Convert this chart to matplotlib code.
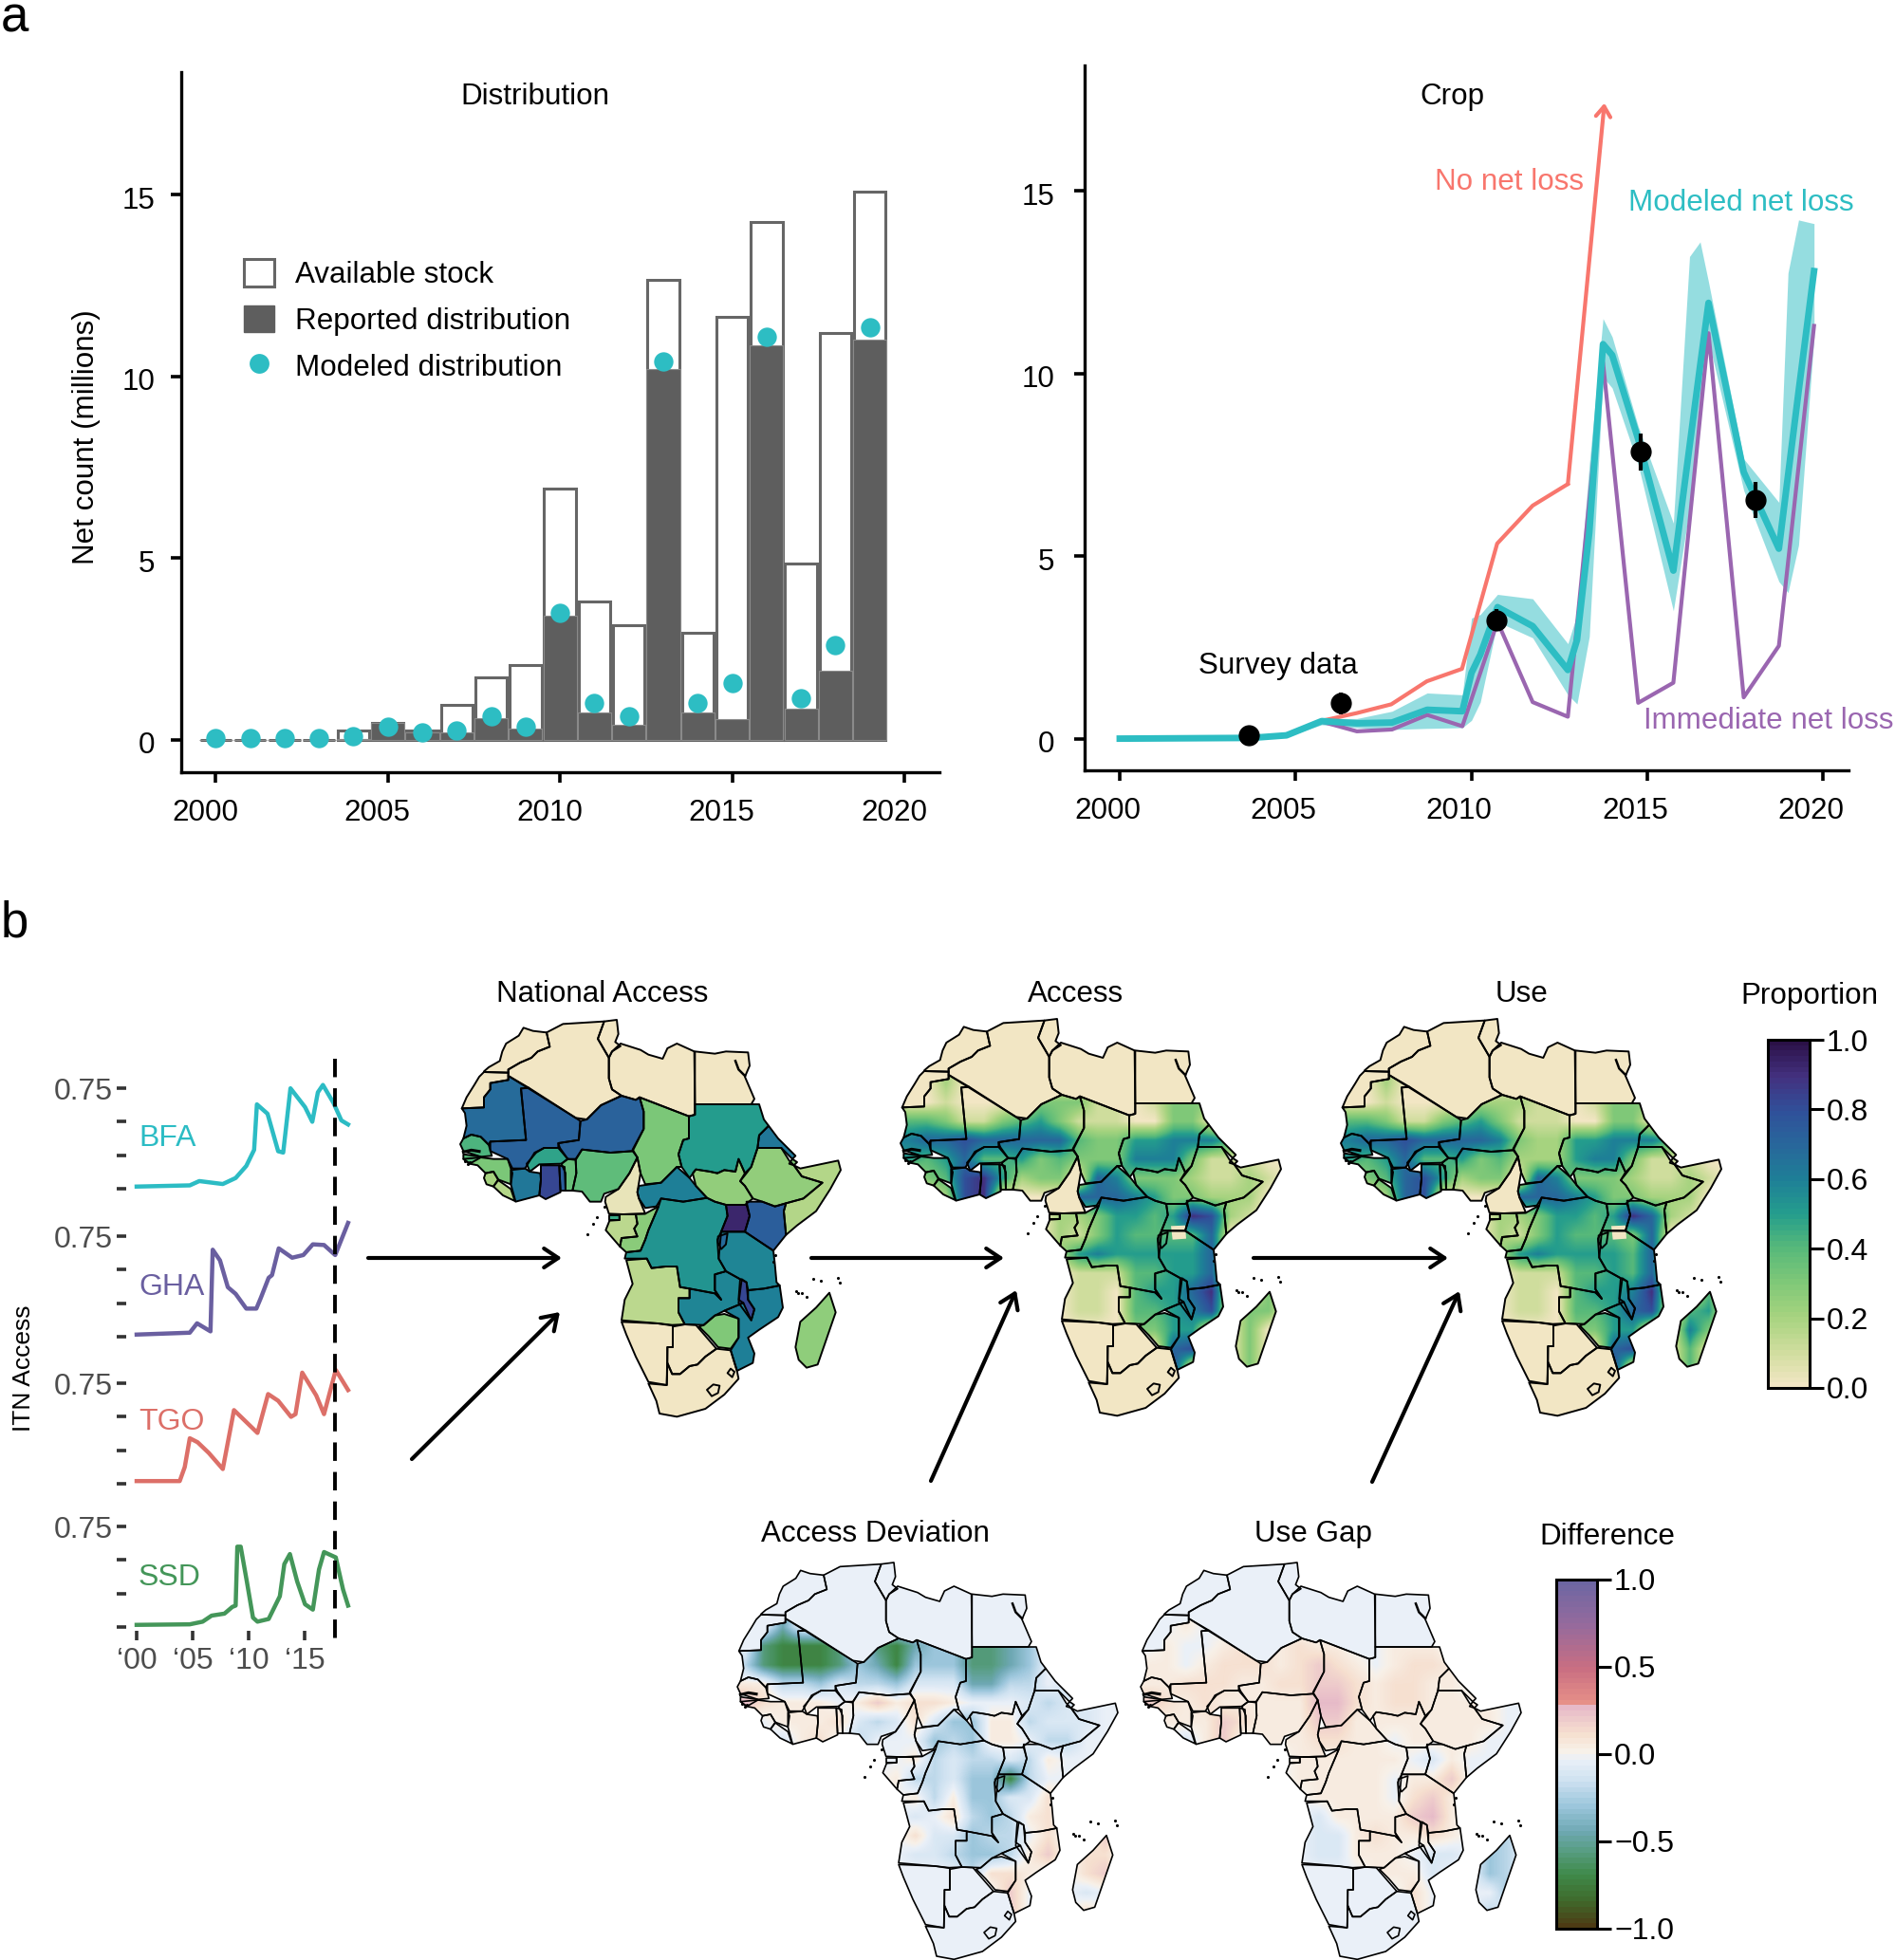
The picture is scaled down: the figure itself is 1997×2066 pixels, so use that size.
import numpy as np
import matplotlib
matplotlib.use('Agg')
import matplotlib.pyplot as plt
from matplotlib.patches import Polygon, Patch
from matplotlib.lines import Line2D
from matplotlib.path import Path
from matplotlib.colors import LinearSegmentedColormap, Normalize
from matplotlib.cm import ScalarMappable
from matplotlib.transforms import ScaledTranslation

plt.rcParams['font.family'] = ['Liberation Sans', 'DejaVu Sans']
plt.rcParams['font.size'] = 22.6

W, H = 1997, 2066
TEAL = '#2dbdc3'
RED = '#f8766d'
PURPLE = '#9a66b0'
GREY = '#5e5e5e'

# panel a, distribution
years = list(range(2000, 2020))
stock = [0, 0, 0, 0, 0.25, 0.45, 0.25, 0.95, 1.7, 2.05, 6.9, 3.8, 3.15, 12.65, 2.95, 11.65, 14.25, 4.85, 11.2, 15.1]
reported = [0, 0, 0, 0, 0.02, 0.45, 0.2, 0.2, 0.6, 0.3, 3.4, 0.75, 0.4, 10.2, 0.75, 0.55, 10.85, 0.85, 1.9, 11.0]
modeled_dist = [0.03, 0.03, 0.03, 0.03, 0.1, 0.35, 0.2, 0.25, 0.65, 0.35, 3.5, 1.0, 0.65, 10.4, 1.0, 1.55, 11.1, 1.15, 2.6, 11.35]

# panel a, crop
no_loss_x = [2000, 2003.74, 2004.74, 2005.8, 2006.74, 2007.72, 2008.73, 2009.73, 2010.73, 2011.74, 2012.74]
no_loss_y = [0, 0.02, 0.09, 0.5, 0.7, 0.94, 1.57, 1.91, 5.34, 6.38, 6.97]
arrow_tip = (2013.78, 17.4)

crop_x = [2000, 2003.74, 2004.74, 2005.74, 2006.74, 2007.74, 2008.74, 2009.74, 2010, 2010.25, 2010.74, 2011.74,
          2012.74, 2013, 2013.35, 2013.74, 2014, 2014.74, 2015.74, 2016.2, 2016.5, 2016.74, 2017.74, 2018.74,
          2019, 2019.3, 2019.74]
crop_mid = [0, 0.02, 0.09, 0.48, 0.42, 0.44, 0.79, 0.75, 1.8, 2.3, 3.6, 3.08,
            1.88, 2.7, 5.65, 10.8, 10.5, 8.2, 4.6, 8.0, 10.2, 11.93, 7.3, 5.2,
            7.2, 9.5, 12.8]
crop_hi = [0, 0.02, 0.19, 0.55, 0.55, 0.75, 1.25, 1.2, 3.3, 3.4, 3.95, 3.83,
           2.6, 3.4, 7.5, 11.5, 11.0, 8.55, 5.9, 13.2, 13.6, 12.5, 7.66, 6.47,
           12.75, 14.2, 14.1]
crop_lo = [0, 0.02, 0.05, 0.38, 0.3, 0.25, 0.28, 0.3, 0.5, 1.0, 3.2, 2.76,
           1.2, 0.95, 2.8, 9.9, 9.6, 7.5, 3.5, 6.3, 9.4, 10.9, 6.8, 4.3,
           4.0, 5.3, 11.0]

immediate_x = [2005.8, 2006.74, 2007.74, 2008.74, 2009.74, 2010.74, 2011.74, 2012.74, 2013.74, 2014.74, 2015.74,
               2016.74, 2017.74, 2018.74, 2019.74]
immediate_y = [0.45, 0.2, 0.25, 0.65, 0.34, 3.2, 1.0, 0.6, 10.3, 0.98, 1.53, 11.1, 1.13, 2.54, 11.3]

survey_x = [2003.68, 2006.28, 2010.7, 2014.8, 2018.07]
survey_y = [0.1, 0.97, 3.24, 7.85, 6.53]
survey_err = [0.05, 0.3, 0.3, 0.5, 0.5]

# panel b, country time series
bfa_x = [2000, 2004.75, 2005.6, 2007.7, 2008.85, 2009.8, 2010.5, 2010.75, 2011.7, 2012.65, 2013.1, 2013.75, 2015.05,
         2015.7, 2016.2, 2016.65, 2017.6, 2018.3, 2018.9]
bfa_y = [0.016, 0.025, 0.057, 0.035, 0.08, 0.17, 0.29, 0.63, 0.56, 0.28, 0.27, 0.75, 0.61, 0.5, 0.72, 0.775, 0.64, 0.51, 0.48]
gha_x = [2000, 2004.75, 2005.4, 2006.6, 2006.8, 2007.45, 2008.15, 2008.85, 2009.8, 2010.7, 2011.1, 2011.8, 2012.1, 2012.7,
         2013.9, 2014.9, 2015.75, 2016.75, 2017.75, 2018.9]
gha_y = [0.016, 0.03, 0.1, 0.04, 0.65, 0.57, 0.37, 0.32, 0.21, 0.21, 0.29, 0.44, 0.46, 0.66, 0.59, 0.61, 0.69, 0.685, 0.61, 0.85]
tgo_x = [2000, 2003.85, 2004.3, 2004.75, 2005.45, 2006.45, 2007.7, 2008.7, 2010.8, 2011.75, 2012.65, 2013.8, 2014.2, 2014.8,
         2016.05, 2016.75, 2017.8, 2018.9]
tgo_y = [0.02, 0.02, 0.125, 0.34, 0.31, 0.23, 0.11, 0.55, 0.38, 0.67, 0.62, 0.5, 0.52, 0.83, 0.66, 0.52, 0.85, 0.7]
ssd_x = [2000, 2004.75, 2005.9, 2006.7, 2007.85, 2008.55, 2008.85, 2009, 2009.3, 2009.85, 2010.4, 2010.8, 2011.8, 2012.8,
         2013.2, 2013.7, 2014.35, 2015.05, 2015.75, 2016.3, 2016.75, 2017.8, 2018.45, 2018.9]
ssd_y = [0.016, 0.02, 0.04, 0.085, 0.1, 0.15, 0.16, 0.6, 0.6, 0.34, 0.07, 0.04, 0.06, 0.23, 0.47, 0.545, 0.34, 0.17, 0.13,
         0.43, 0.56, 0.52, 0.28, 0.16]

# country outlines, in map units (y runs downwards)
borders = {
    'morocco': [(120, 268), (135, 255), (170, 235), (178, 205), (190, 180), (230, 155), (245, 130), (275, 140), (318, 145),
                (328, 190), (290, 205), (270, 225), (235, 240), (197, 262), (197, 272), (120, 270)],
    'w_sahara': [(120, 270), (197, 272), (197, 295), (140, 305), (140, 325), (120, 350), (120, 382), (50, 385), (65, 350),
                 (90, 310), (105, 285)],
    'mauritania': [(50, 385), (120, 382), (120, 350), (140, 325), (140, 305), (197, 295), (197, 282), (262, 320), (237, 322),
                   (253, 485), (140, 490), (135, 500), (110, 475), (80, 468), (55, 480), (65, 440), (60, 400)],
    'mali': [(237, 322), (262, 320), (410, 415), (425, 425), (420, 485), (355, 495), (360, 510), (310, 510), (280, 525),
             (250, 575), (210, 575), (195, 545), (140, 520), (140, 490), (253, 485)],
    'algeria': [(318, 145), (370, 118), (500, 110), (480, 165), (515, 225), (515, 290), (525, 325), (555, 345), (490, 375),
                (445, 420), (410, 415), (197, 282), (197, 262), (235, 240), (270, 225), (290, 205), (328, 190)],
    'tunisia': [(500, 110), (540, 105), (545, 150), (535, 175), (552, 188), (525, 205), (515, 225), (480, 165)],
    'libya': [(515, 225), (525, 205), (552, 180), (615, 200), (640, 215), (685, 228), (700, 195), (730, 180), (785, 205),
              (787, 372), (787, 405), (768, 410), (612, 350), (600, 358), (555, 345), (525, 325), (515, 290)],
    'egypt': [(787, 205), (850, 212), (885, 205), (955, 208), (960, 250), (945, 285), (975, 355), (965, 372), (787, 372)],
    'sudan': [(787, 372), (990, 372), (1005, 420), (1020, 440), (990, 470), (985, 510), (965, 570), (945, 590), (925, 545),
              (915, 585), (880, 580), (858, 590), (835, 585), (790, 578), (770, 605), (745, 570), (735, 530), (750, 485),
              (768, 480), (768, 410), (787, 405)],
    'eritrea': [(1020, 440), (1050, 480), (1105, 535), (1095, 545), (1060, 510), (985, 510), (990, 470)],
    'djibouti': [(1095, 545), (1110, 555), (1100, 565), (1085, 560)],
    'ethiopia': [(985, 510), (1060, 510), (1085, 550), (1100, 565), (1125, 600), (1190, 620), (1130, 670), (1075, 685),
                 (1040, 695), (1000, 680), (970, 670), (945, 630), (930, 615), (950, 590), (965, 570)],
    'somalia': [(1100, 565), (1120, 575), (1240, 550), (1248, 580), (1215, 640), (1170, 710), (1110, 755), (1075, 785),
                (1068, 710), (1075, 685), (1130, 670), (1190, 620), (1125, 600)],
    's_sudan': [(780, 590), (790, 578), (835, 585), (858, 590), (880, 580), (915, 585), (925, 545), (945, 590), (930, 615),
                (945, 630), (970, 670), (945, 690), (885, 690), (850, 680), (825, 668), (790, 630)],
    'car': [(610, 630), (680, 620), (730, 570), (770, 605), (790, 630), (825, 668), (750, 680), (680, 670), (665, 695),
            (630, 700), (610, 670), (605, 650)],
    'chad': [(612, 350), (768, 410), (768, 480), (750, 485), (735, 530), (745, 570), (730, 570), (680, 620), (630, 625),
             (615, 590), (605, 540), (590, 515), (625, 450), (625, 395)],
    'niger': [(425, 425), (445, 420), (490, 375), (555, 345), (600, 358), (612, 350), (625, 395), (625, 450), (590, 520),
              (520, 525), (430, 515), (410, 545), (385, 545), (355, 510), (355, 495), (420, 485)],
    'burkina': [(255, 560), (285, 525), (310, 510), (360, 510), (385, 545), (365, 560), (295, 562), (265, 585)],
    'nigeria': [(400, 645), (412, 590), (410, 548), (430, 515), (520, 525), (590, 520), (605, 540), (580, 590), (545, 640),
                (500, 655), (490, 680), (455, 680), (430, 648)],
    'benin': [(365, 560), (385, 545), (410, 548), (412, 590), (400, 645), (378, 645), (378, 590)],
    'togo': [(358, 565), (375, 570), (378, 645), (362, 645)],
    'ghana': [(300, 565), (358, 565), (362, 650), (315, 672), (295, 660), (300, 610)],
    'ivory_coast': [(205, 580), (250, 575), (265, 585), (298, 590), (300, 610), (295, 660), (220, 680), (205, 625)],
    'guinea': [(55, 545), (110, 540), (150, 545), (195, 545), (210, 590), (205, 625), (165, 610), (150, 585), (125, 590),
               (100, 565), (75, 560)],
    'sierra_leone': [(125, 590), (150, 585), (165, 610), (150, 632), (128, 625), (120, 605)],
    'liberia': [(165, 612), (205, 640), (218, 678), (180, 660), (150, 632)],
    'senegal': [(45, 498), (55, 480), (80, 468), (110, 475), (135, 500), (145, 535), (110, 538), (55, 520)],
    'g_bissau': [(55, 530), (110, 538), (110, 540), (75, 560), (55, 545)],
    'cameroon': [(505, 665), (545, 640), (580, 590), (605, 540), (615, 590), (605, 650), (610, 670), (630, 718), (560, 720),
                 (515, 718), (503, 680)],
    'eq_guinea': [(517, 722), (548, 722), (548, 738), (517, 738)],
    'gabon': [(505, 770), (517, 740), (548, 738), (548, 720), (600, 720), (605, 750), (595, 765), (605, 790), (555, 795),
              (550, 822)],
    'congo': [(560, 720), (630, 718), (672, 695), (640, 770), (630, 800), (615, 835), (570, 840), (550, 822), (555, 795),
              (605, 790), (595, 765), (605, 750), (600, 720)],
    'drc': [(680, 670), (750, 680), (825, 668), (850, 680), (885, 690), (890, 725), (870, 775), (858, 800), (862, 860),
            (885, 900), (850, 910), (850, 960), (870, 990), (850, 970), (770, 955), (740, 950), (730, 885), (695, 885),
            (650, 890), (635, 860), (565, 860), (570, 840), (615, 835), (630, 800), (640, 770), (672, 695)],
    'angola': [(570, 865), (635, 860), (650, 890), (695, 885), (730, 885), (740, 950), (770, 955), (770, 985), (735, 985),
               (735, 1030), (755, 1068), (715, 1070), (670, 1065), (555, 1055), (565, 990), (590, 940)],
    'zambia': [(735, 985), (770, 985), (770, 955), (850, 970), (870, 990), (850, 960), (850, 910), (885, 900), (930, 925),
               (925, 990), (940, 1000), (880, 1025), (850, 1040), (815, 1070), (755, 1068), (735, 1030)],
    'malawi': [(935, 925), (950, 935), (955, 990), (975, 1020), (965, 1055), (925, 1000)],
    'tanzania': [(870, 775), (945, 775), (1035, 835), (1040, 880), (1045, 935), (1055, 945), (1005, 955), (955, 960),
                 (950, 935), (930, 925), (885, 900), (862, 860)],
    'rwanda_burundi': [(860, 790), (890, 780), (885, 815), (870, 830), (860, 810)],
    'uganda': [(885, 690), (950, 690), (960, 725), (945, 775), (870, 775), (890, 725)],
    'kenya': [(950, 680), (1000, 680), (1040, 695), (1075, 685), (1068, 710), (1075, 785), (1035, 835), (945, 775), (960, 725)],
    'mozambique': [(1055, 945), (1065, 1015), (1050, 1045), (990, 1085), (955, 1110), (975, 1160), (970, 1190), (920, 1215),
                   (900, 1150), (925, 1110), (925, 1050), (880, 1025), (940, 1000), (965, 1055), (975, 1020), (955, 990),
                   (955, 960), (1005, 955)],
    'zimbabwe': [(815, 1070), (850, 1040), (880, 1035), (925, 1050), (925, 1110), (900, 1145), (860, 1140), (830, 1105), (800, 1075)],
    'botswana': [(717, 1075), (755, 1068), (790, 1070), (855, 1145), (820, 1170), (795, 1195), (770, 1200), (740, 1225),
                 (715, 1225), (700, 1190), (700, 1140), (717, 1140)],
    'namibia': [(555, 1060), (670, 1065), (717, 1072), (717, 1140), (700, 1140), (698, 1260), (640, 1250), (600, 1170), (570, 1100)],
    'south_africa': [(640, 1255), (698, 1260), (700, 1190), (715, 1225), (740, 1225), (770, 1200), (795, 1195), (820, 1170),
                     (855, 1145), (900, 1150), (920, 1215), (925, 1240), (880, 1290), (820, 1335), (730, 1360), (675, 1350), (665, 1310)],
    'lesotho': [(825, 1275), (845, 1258), (865, 1262), (860, 1285), (840, 1295)],
    'eswatini': [(890, 1222), (900, 1208), (912, 1218), (905, 1235)],
    'madagascar': [(1212, 968), (1232, 1030), (1175, 1195), (1140, 1205), (1115, 1180), (1105, 1140), (1120, 1060), (1170, 1015)],
}
island_x = [1160, 1185, 1240, 1245, 1108, 1112, 1125, 1140, 465, 478, 448, 500, 1040, 1035, 60, 68, 75]
island_y = [925, 930, 920, 935, 962, 968, 970, 982, 750, 730, 782, 695, 850, 870, 552, 560, 556]
red_sea_x = [915, 925, 945]
red_sea_y = [235, 262, 282]
gambia_x = [55, 80, 105]
gambia_y = [523, 517, 521]

national_access = {
    'mauritania': 0.68, 'mali': 0.72, 'niger': 0.72, 'chad': 0.31, 'sudan': 0.5, 'eritrea': 0.63, 'djibouti': 0.3,
    'ethiopia': 0.25, 'somalia': 0.17, 's_sudan': 0.25, 'car': 0.6, 'senegal': 0.42, 'guinea': 0.31, 'g_bissau': 0.4,
    'sierra_leone': 0.2, 'liberia': 0.17, 'ivory_coast': 0.63, 'burkina': 0.48, 'ghana': 0.83, 'togo': 0.74, 'benin': 0.36,
    'nigeria': 0.38, 'eq_guinea': 0.46, 'gabon': 0.15, 'congo': 0.27, 'drc': 0.53, 'angola': 0.15, 'zambia': 0.58,
    'malawi': 0.83, 'tanzania': 0.58, 'rwanda_burundi': 0.68, 'uganda': 0.93, 'kenya': 0.74, 'mozambique': 0.6,
    'zimbabwe': 0.3, 'madagascar': 0.26, 'cameroon': 0.03,
}
no_data = ['morocco', 'w_sahara', 'algeria', 'tunisia', 'libya', 'egypt', 'namibia', 'botswana', 'south_africa', 'lesotho', 'eswatini']
lake_victoria = [(900, 760), (945, 758), (948, 800), (905, 803)]

# coarse readings of the pixel maps, one digit per cell is tenths of proportion
access_rows = [
    "002000000000000000000",
    "001000133311013330000",
    "443113453111003300000",
    "677877777433556664000",
    "545744534333666311100",
    "034895233076333211210",
    "002890000777653322200",
    "000000002235545982100",
    "000000002135444470000",
    "000000002565555570000",
    "000000000111445570000",
    "000000000110455790030",
    "000000000110445680330",
    "000000000000335500300",
    "000000000000007800300",
    "000000000000008000300",
]
use_rows = [
    "002000000000000000000",
    "001000122211013330000",
    "443113453111003300000",
    "677877776322556664000",
    "545744534222566311100",
    "034785233076333211210",
    "002780000777653322200",
    "000000002235545972100",
    "000000002135444370000",
    "000000002565555470000",
    "000000000111445470000",
    "000000000110455690040",
    "000000000110445780450",
    "000000000000335500630",
    "000000000000007800400",
    "000000000000008000400",
]
# letters stand for the levels in diff_levels
deviation_rows = [
    "ggcgggggggggggggggggg",
    "gbaaabgbacddbbcdggggg",
    "ebaaabdcadddbbcdggggg",
    "hheedfeedfffcceegfggg",
    "kihhhghjhiihgggfeffgg",
    "gghhhifefifddhhefffgg",
    "ggfhigegggdedhhgeeggg",
    "ggggggggghefeefehgggg",
    "ggggggggheefddaeggggg",
    "ggggggggghehddffigggg",
    "gggggggggfgiedehigggg",
    "gggggggggiffdeegiggjg",
    "gggggggggffeddehjgiig",
    "ggggggggggggeiihggijg",
    "ggggggggggggggjgggfgg",
    "ggggggggggggggjgggigg",
]
gap_rows = [
    "gghgggggggggggggggggg",
    "ghgghiihihhgghhhggggg",
    "hhghiiihijihghiihgggg",
    "hhiiihhiijjihiihhgggg",
    "jihihhhhhkkihiihhhhgg",
    "ghhhjihhhjjhhhhhhhhgg",
    "ggfhjghhhiihhghhhhggg",
    "gggggggghhhhhhgfhgggg",
    "gggggggghhhhhghhjgggg",
    "ggggggggghhhhgijhgggg",
    "gggggggggfhhhhjkhgggg",
    "gggggggggffhihhihgdeg",
    "gggggggggffhhhgffgdeg",
    "gggggggggggghhhfggdeg",
    "ggggggggggggggiggggdg",
    "ggggggggggggggigggegg",
]
diff_levels = {'a': -0.72, 'b': -0.58, 'c': -0.45, 'd': -0.3, 'e': -0.2, 'f': -0.1, 'g': -0.03, 'h': 0.05, 'i': 0.11,
               'j': 0.2, 'k': 0.27}

prop_cmap = LinearSegmentedColormap.from_list('prop', [
    (0.0, '#f2e6c4'), (0.1, '#cfdd9d'), (0.2, '#a6d37f'), (0.3, '#7fc878'), (0.4, '#57b97a'), (0.5, '#249d8d'),
    (0.6, '#1e7f97'), (0.7, '#28679b'), (0.8, '#30509a'), (0.9, '#43307f'), (1.0, '#2b1147')], N=256)
diff_cmap = LinearSegmentedColormap.from_list('diff', [
    (0.0, '#4d3b14'), (0.075, '#3f6a2c'), (0.15, '#3f8a4a'), (0.225, '#5a9f87'), (0.275, '#6ea8b3'), (0.35, '#9cc6dc'),
    (0.425, '#cfe2f1'), (0.485, '#eaf0f8'), (0.51, '#f8f1e8'), (0.56, '#f6dfcf'), (0.64, '#e6b8c8'), (0.65, '#e69088'),
    (0.75, '#c96e82'), (0.875, '#966a9c'), (1.0, '#6d66a3')], N=256)
prop_norm = Normalize(0, 1)
diff_norm = Normalize(-1, 1)

fig = plt.figure(figsize=(W / 100, H / 100), dpi=100, facecolor='white')


def px_axes(left, top, width, height):
    return fig.add_axes([left / W, 1 - (top + height) / H, width / W, height / H])


def shift_labels(labels, dx, dy):
    offset = ScaledTranslation(dx / 100, dy / 100, fig.dpi_scale_trans)
    for lab in labels:
        lab.set_transform(lab.get_transform() + offset)


# ---- a: distribution
ax1 = px_axes(191, 76, 799, 738)
ax1.bar(years, stock, width=0.92, facecolor='white', edgecolor='#666666', linewidth=2.2, zorder=2)
ax1.bar(years, reported, width=0.97, facecolor=GREY, edgecolor='#8a8a8a', linewidth=0.8, zorder=3)
ax1.scatter(years, modeled_dist, s=215, color=TEAL, linewidths=0, zorder=4, clip_on=False)
ax1.set_xlim(1999.0, 2021.02)
ax1.set_ylim(-0.9, 18.38)
ax1.set_xticks([2000, 2005, 2010, 2015, 2020])
ax1.set_yticks([0, 5, 10, 15])
legend_handles = [Patch(facecolor='white', edgecolor='#666666', linewidth=2.2),
                  Patch(facecolor=GREY, edgecolor=GREY),
                  Line2D([], [], marker='o', color='none', markerfacecolor=TEAL, markeredgecolor='none', markersize=15)]
ax1.legend(legend_handles, ['Available stock', 'Reported distribution', 'Modeled distribution'], loc='upper left',
           bbox_to_anchor=(257 / W, 1 - 273 / H), bbox_transform=fig.transFigure, frameon=False, handlelength=1.03,
           handleheight=1.03, labelspacing=0.53, handletextpad=0.7, borderpad=0, borderaxespad=0)

# ---- a: crop
ax2 = px_axes(1143, 69, 805, 743)
ax2.fill_between(crop_x, crop_lo, crop_hi, color=TEAL, alpha=0.5, linewidth=0, zorder=1)
ax2.plot(no_loss_x, no_loss_y, color=RED, lw=3, zorder=2)
ax2.annotate('', xy=arrow_tip, xytext=(no_loss_x[-1], no_loss_y[-1]),
             arrowprops=dict(arrowstyle='->,head_length=0.35,head_width=0.25', color=RED, lw=3, shrinkA=0, shrinkB=0,
                             mutation_scale=22), zorder=2)
ax2.plot(immediate_x, immediate_y, color=PURPLE, lw=3, zorder=3)
ax2.plot(crop_x, crop_mid, color=TEAL, lw=5, zorder=4)
ax2.errorbar(survey_x, survey_y, yerr=survey_err, fmt='o', color='black', ms=15, elinewidth=3, capsize=0, zorder=5)
ax2.set_xlim(1999.0, 2020.72)
ax2.set_ylim(-0.868, 18.43)
ax2.set_xticks([2000, 2005, 2010, 2015, 2020])
ax2.set_yticks([0, 5, 10, 15])

for ax, dx, ypad in ((ax1, -11, 12), (ax2, -13, 15)):
    ax.spines['top'].set_visible(False)
    ax.spines['right'].set_visible(False)
    ax.spines['left'].set_linewidth(2.4)
    ax.spines['bottom'].set_linewidth(2.4)
    ax.tick_params(length=8, width=2.6, labelsize=22.6, pad=12)
    ax.tick_params(axis='y', pad=ypad)
    ax.patch.set_alpha(0)
    shift_labels(ax.get_xticklabels(), dx, 0)
    shift_labels(ax.get_yticklabels(), 0, -3)

# ---- b: small series
series = [(bfa_x, bfa_y, '#2cbcc4', 1253), (gha_x, gha_y, '#6a5fa0', 1409), (tgo_x, tgo_y, '#dc6f68', 1564), (ssd_x, ssd_y, '#449659', 1715)]
for i, (sx, sy, col, zero_px) in enumerate(series):
    ax = px_axes(144, zero_px - 127, 224, 127)
    ax.plot(sx, sy, color=col, lw=3.2, clip_on=False)
    ax.set_xlim(2000, 2019)
    ax.set_ylim(0, 0.9)
    ax.patch.set_alpha(0)
    ax.set_yticks([0, 0.25, 0.5, 0.75])
    ax.set_yticklabels(['', '', '', '0.75'])
    ax.spines['top'].set_visible(False)
    ax.spines['right'].set_visible(False)
    ax.spines['left'].set_visible(False)
    ax.spines['left'].set_position(('outward', 8))
    ax.spines['bottom'].set_visible(False)
    ax.spines['bottom'].set_position(('outward', 3))
    ax.tick_params(axis='y', length=7, width=2.6, color='#333333', labelcolor='#4d4d4d', labelsize=23, pad=3)
    if i == 3:
        ax.set_xticks([2000, 2005, 2010, 2015])
        ax.set_xticklabels(['\u201800', '\u201805', '\u201810', '\u201815'])
        ax.tick_params(axis='x', length=7, width=2.6, color='#333333', labelcolor='#4d4d4d', labelsize=23, pad=5)
    else:
        ax.set_xticks([])

# ---- b: maps
all_paths = [Path(list(pts) + [pts[0]]) for pts in borders.values()]
land = Path.make_compound_path(*all_paths)


def draw_map(left, top, values=None, rows=None, levels=None, cmap=None, norm=None, flat='#f2e6c4', flat_extra=(), lake=False, lw=1.4):
    ax = px_axes(left, top, 460, 480)
    for name, pts in borders.items():
        col = flat
        if values is not None and name in values:
            col = cmap(norm(values[name]))
        elif name not in no_data:
            col = cmap(norm(0.2)) if rows is not None and levels is None else flat
        ax.add_patch(Polygon(pts, closed=True, facecolor=col, edgecolor='none', zorder=1))
    if rows is not None:
        if levels is None:
            grid = [[int(c) / 10 for c in r] for r in rows]
        else:
            grid = [[levels[c] for c in r] for r in rows]
        im = ax.imshow(np.array(grid), extent=(40, 1300, 1240, 280), cmap=cmap, norm=norm, aspect='auto',
                       interpolation='bilinear', zorder=2)
        im.set_clip_path(land, ax.transData)
        for name in list(no_data) + list(flat_extra):
            ax.add_patch(Polygon(borders[name], closed=True, facecolor=flat, edgecolor='none', zorder=3))
    if lake:
        ax.add_patch(Polygon(lake_victoria, closed=True, facecolor='#f2e6c4', edgecolor='none', zorder=3))
    for pts in borders.values():
        ax.add_patch(Polygon(pts, closed=True, facecolor='none', edgecolor='black', linewidth=lw, joinstyle='round', zorder=4))
    ax.plot(red_sea_x, red_sea_y, color='black', lw=1.8, zorder=4)
    ax.plot(gambia_x, gambia_y, color='black', lw=2.2, zorder=4)
    ax.scatter(island_x, island_y, s=5, color='black', linewidths=0, zorder=4)
    ax.set_xlim(0, 1380)
    ax.set_ylim(1440, 0)
    ax.axis('off')
    ax.patch.set_alpha(0)


draw_map(470, 1040, values=national_access, cmap=prop_cmap, norm=prop_norm)
draw_map(934, 1039, rows=access_rows, cmap=prop_cmap, norm=prop_norm, flat_extra=['cameroon'], lake=True)
draw_map(1398, 1039, rows=use_rows, cmap=prop_cmap, norm=prop_norm, flat_extra=['cameroon'], lake=True)
draw_map(762, 1612, rows=deviation_rows, levels=diff_levels, cmap=diff_cmap, norm=diff_norm, flat='#eaf0f8', lw=1.2)
draw_map(1187, 1612, rows=gap_rows, levels=diff_levels, cmap=diff_cmap, norm=diff_norm, flat='#eaf0f8', lw=1.2)

# ---- b: colour bars
for box, cmap, norm, ticks, labels in (
        ((1863, 1096, 44, 367), prop_cmap, prop_norm, [0, 0.2, 0.4, 0.6, 0.8, 1.0], ['0.0', '0.2', '0.4', '0.6', '0.8', '1.0']),
        ((1640, 1665, 43, 368), diff_cmap, diff_norm, [-1, -0.5, 0, 0.5, 1], ['\u22121.0', '\u22120.5', '0.0', '0.5', '1.0'])):
    cax = px_axes(*box)
    sm = ScalarMappable(norm=norm, cmap=cmap.resampled(64))
    cb = fig.colorbar(sm, cax=cax)
    cb.set_ticks(ticks)
    cb.set_ticklabels(labels)
    cb.ax.tick_params(length=11, width=2.2, labelsize=23, pad=2)
    cb.outline.set_linewidth(2.2)

# ---- annotations in figure pixels
ov = fig.add_axes([0, 0, 1, 1], zorder=20)
ov.set_xlim(0, W)
ov.set_ylim(H, 0)
ov.axis('off')
ov.patch.set_alpha(0)

ov.text(1, 20, 'a', fontsize=38, ha='left', va='center')
ov.text(1, 973, 'b', fontsize=38, ha='left', va='center')
ov.text(564, 102, 'Distribution', ha='center', va='center')
ov.text(1530, 102, 'Crop', ha='center', va='center')
ov.text(1669, 192, 'No net loss', color=RED, ha='right', va='center')
ov.text(1835, 214, 'Modeled net loss', color=TEAL, ha='center', va='center')
ov.text(1996, 760, 'Immediate net loss', color=PURPLE, ha='right', va='center')
ov.text(1263, 702, 'Survey data', ha='left', va='center')
ov.text(91, 461, 'Net count (millions)', rotation=90, ha='center', va='center')
ov.text(25, 1442, 'ITN Access', rotation=90, fontsize=19, ha='center', va='center')
for name, col, y in (('BFA', '#2cbcc4', 1200), ('GHA', '#6a5fa0', 1357), ('TGO', '#dc6f68', 1499), ('SSD', '#449659', 1663)):
    ov.text(146, y, name, color=col, fontsize=23, ha='left', va='center')
for txt, x, y in (('National Access', 635, 1048), ('Access', 1134, 1048), ('Use', 1604, 1048), ('Proportion', 1907, 1050),
                  ('Access Deviation', 922, 1617), ('Use Gap', 1384, 1617), ('Difference', 1694, 1620)):
    ov.text(x, y, txt, ha='center', va='center')

ov.plot([353, 353], [1116, 1727], color='black', lw=2.8, dashes=(5, 3))
arrow_lines = [((388, 1326), (592, 1326)), ((434, 1538), (590, 1383)), ((855, 1326), (1058, 1326)), ((981, 1561), (1071, 1360)),
               ((1321, 1326), (1526, 1326)), ((1446, 1562), (1538, 1361))]
for start, end in arrow_lines:
    ov.annotate('', xy=end, xytext=start,
                arrowprops=dict(arrowstyle='->,head_length=0.45,head_width=0.3', color='black', lw=3, shrinkA=0, shrinkB=0,
                                mutation_scale=24))

fig.savefig('out.png', dpi=100)
